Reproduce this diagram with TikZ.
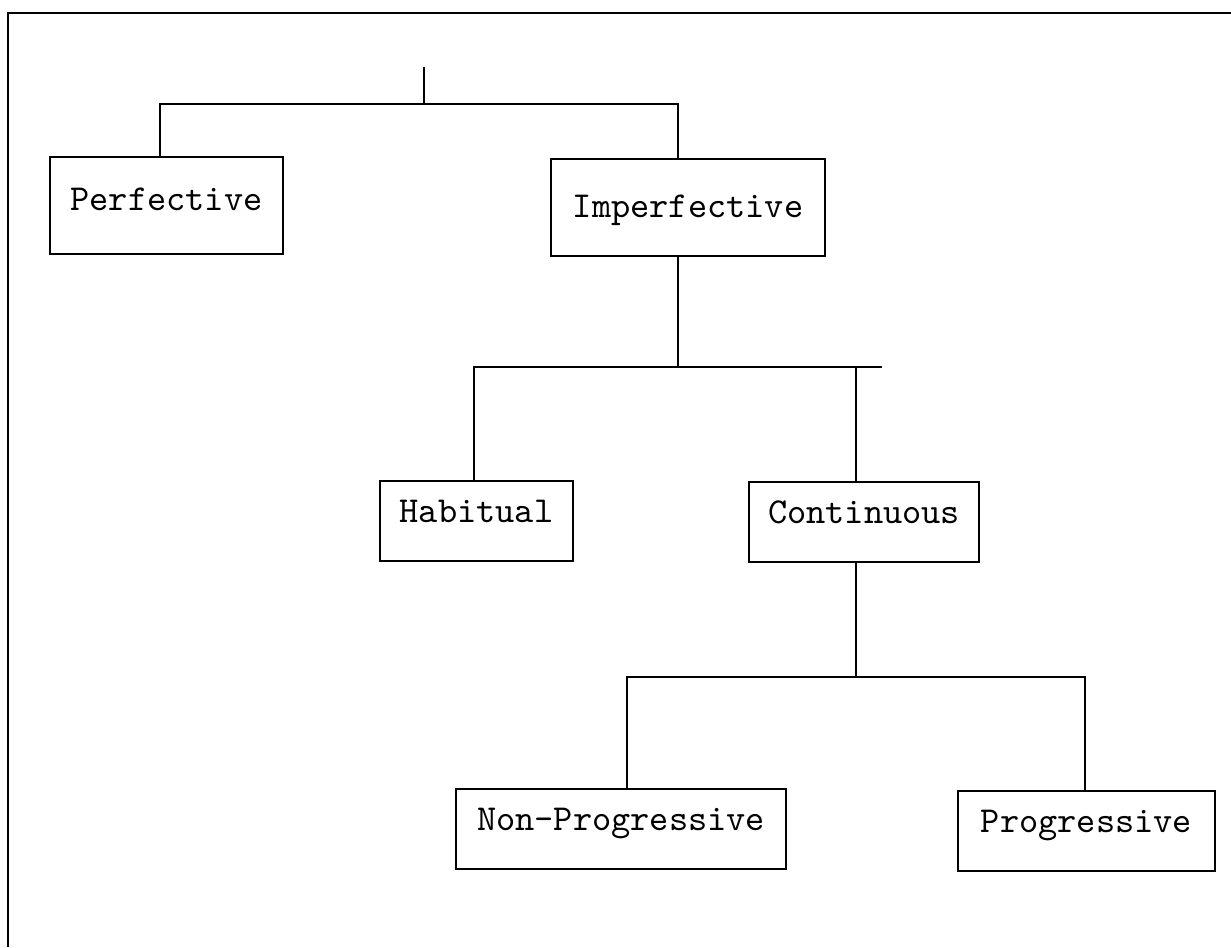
\documentclass[tikz,border=0pt]{standalone}
\usepackage{tikz}

\tikzset{
  aspect/.style={draw, rectangle, anchor=north, inner xsep=0pt, inner ysep=0pt,
    line width=0.6pt, font=\fontsize{10.4}{12}\fontseries{l}\selectfont\ttfamily},
  tallbox/.style={aspect, text height=15.1pt, text depth=12.5pt},
  lowbox/.style={aspect, text height=11.7pt, text depth=11.1pt},
  branch/.style={line width=0.6pt}
}

\begin{document}
\begin{tikzpicture}[x=0.01cm,y=-0.01cm]

    \useasboundingbox (0,0) rectangle (1231,947);
    % frame
    \draw[line width=0.65pt] (8,947) -- (8,13) -- (1231,13);

    % boxes
    \node[tallbox, minimum width=2.33cm] (perf) at (166.5,156) {Perfective};
    \node[tallbox, minimum width=2.74cm, text height=16.5pt, text depth=11.1pt] (imp) at (688,158) {Imperfective};
    \node[lowbox, minimum width=1.93cm] (hab) at (476.5,480) {Habitual};
    \node[lowbox, minimum width=2.30cm] (cont) at (864,481) {Continuous};
    \node[lowbox, minimum width=3.30cm] (nonprog) at (621,788) {Non-Progressive};
    \node[lowbox, minimum width=2.57cm] (prog) at (1086.5,790) {Progressive};

    % forks
    \coordinate (top) at (424,67);
    \coordinate (fork1) at (424,104);
    \coordinate (fork1l) at (160,104);
    \coordinate (fork1r) at (678,104);
    \coordinate (fork2l) at (474,367);
    \coordinate (fork2r) at (856,367);
    \coordinate (fork2end) at (882,367);
    \coordinate (fork3l) at (627,677);
    \coordinate (fork3r) at (1085,677);

    \draw[branch] (top) -- (fork1);
    \draw[branch] (perf.north -| fork1l) -- (fork1l) -- (fork1r) -- (imp.north -| fork1r);
    \draw[branch] (imp.south -| fork1r) -- (fork1r |- fork2l);
    \draw[branch] (hab.north -| fork2l) -- (fork2l) -- (fork2end);
    \draw[branch] (fork2r) -- (cont.north -| fork2r);
    \draw[branch] (cont.south -| fork2r) -- (fork2r |- fork3l);
    \draw[branch] (nonprog.north -| fork3l) -- (fork3l) -- (fork3r) -- (prog.north -| fork3r);

\end{tikzpicture}
\end{document}
